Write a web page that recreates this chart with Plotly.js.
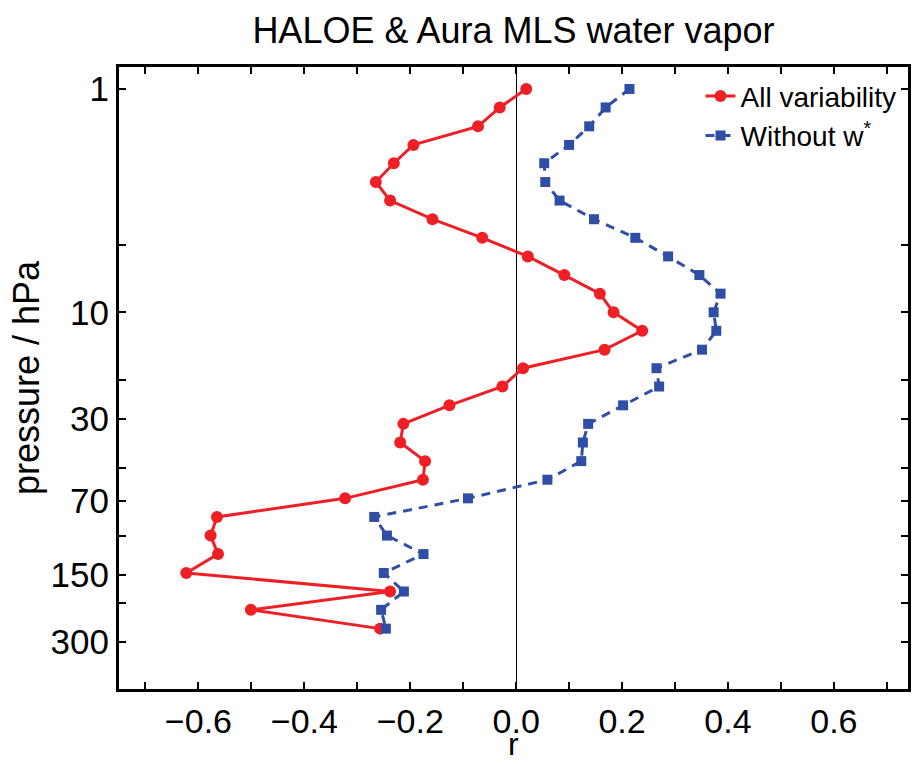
<!DOCTYPE html>
<html>
<head>
<meta charset="utf-8">
<script src="https://cdn.plot.ly/plotly-3.0.1.min.js"></script>
<style>html,body{margin:0;padding:0;background:#fff;}#chart{width:915px;height:764px;}</style>
</head>
<body>
<div id="chart"></div>
<script>
// Pressure levels (hPa)
const pressure = [1, 1.21, 1.47, 1.78, 2.15, 2.61, 3.16, 3.83, 4.64, 5.62, 6.81, 8.25,
  10, 12.1, 14.7, 17.8, 21.5, 26.1, 31.6, 38.3, 46.4, 56.2, 68.1, 82.5,
  100, 121, 147, 178, 215, 261];

// Correlation r, all variability
const rAll = [0.019, -0.031, -0.072, -0.194, -0.231, -0.265, -0.238, -0.158, -0.064, 0.022,
  0.091, 0.158, 0.184, 0.238, 0.167, 0.013, -0.026, -0.126, -0.213, -0.219,
  -0.172, -0.176, -0.323, -0.565, -0.577, -0.563, -0.623, -0.238, -0.501, -0.257];

// Correlation r, without w*
const rNoW = [0.214, 0.169, 0.138, 0.100, 0.053, 0.055, 0.082, 0.147, 0.225, 0.287,
  0.346, 0.386, 0.373, 0.378, 0.351, 0.265, 0.270, 0.202, 0.136, 0.126,
  0.123, 0.059, -0.091, -0.268, -0.244, -0.175, -0.250, -0.212, -0.255, -0.246];

const xTickVals = [-0.7, -0.6, -0.5, -0.4, -0.3, -0.2, -0.1, 0, 0.1, 0.2, 0.3, 0.4, 0.5, 0.6, 0.7];
const xTickText = ['', '\u22120.6', '', '\u22120.4', '', '\u22120.2', '', '0.0', '', '0.2', '', '0.4', '', '0.6', ''];
const yTickVals = [1, 5, 10, 20, 30, 50, 70, 100, 150, 200, 300];
const yTickText = ['1', '', '10', '', '30', '', '70', '', '150', '', '300'];
const xAxisTitle = 'r';

const FONT = '"Liberation Sans", Arial, Helvetica, sans-serif';

const traces = [
  {
    x: rAll, y: pressure, name: 'All variability', type: 'scatter', mode: 'lines+markers',
    line: {color: '#EE2026', width: 3},
    marker: {color: '#EE2026', size: 12, symbol: 'circle'}
  },
  {
    x: rNoW, y: pressure, name: 'Without w<sup>*</sup>', type: 'scatter', mode: 'lines+markers',
    line: {color: '#2E4FA5', width: 3, dash: '9px,7px'},
    marker: {color: '#2E4FA5', size: 10, symbol: 'square'}
  }
];

const layout = {
  width: 915, height: 764,
  paper_bgcolor: '#fff', plot_bgcolor: '#fff',
  margin: {l: 119, r: 7, t: 67, b: 75},
  font: {family: FONT, color: '#000', size: 34},
  title: {text: 'HALOE & Aura MLS water vapor', font: {size: 36, family: FONT, color: '#000'},
          xref: 'paper', x: 0.5, xanchor: 'center', yref: 'container', y: 0.96, yanchor: 'middle'},
  showlegend: true,
  legend: {x: 0.737, xanchor: 'left', y: 0.993, yanchor: 'top', bgcolor: 'rgba(0,0,0,0)',
           font: {size: 28, family: FONT, color: '#000'}},
  xaxis: {
    range: [-0.75, 0.74],
    tickmode: 'array', tickvals: xTickVals, ticktext: xTickText,
    ticks: 'inside', ticklen: 7, tickwidth: 2, tickcolor: '#000',
    showline: true, linewidth: 3, linecolor: '#000', mirror: 'allticks',
    showgrid: false, zeroline: true, zerolinecolor: '#000', zerolinewidth: 1,
    tickfont: {size: 34}, ticklabelstandoff: 0
  },
  yaxis: {
    type: 'log', range: [2.687, -0.0985],
    tickmode: 'array', tickvals: yTickVals, ticktext: yTickText,
    ticks: 'inside', ticklen: 7, tickwidth: 2, tickcolor: '#000',
    showline: true, linewidth: 3, linecolor: '#000', mirror: 'allticks',
    showgrid: false, zeroline: false,
    tickfont: {size: 35}, ticklabelstandoff: 0,
    title: {text: 'pressure / hPa', font: {size: 36}, standoff: 0}
  },
  annotations: [
    {text: xAxisTitle, xref: 'paper', yref: 'paper', x: 0.5, y: -0.121,
     xanchor: 'center', yanchor: 'bottom', showarrow: false,
     font: {size: 32, family: FONT, color: '#000'}}
  ]
};

Plotly.newPlot('chart', traces, layout, {displayModeBar: false, staticPlot: true});
</script>
</body>
</html>
